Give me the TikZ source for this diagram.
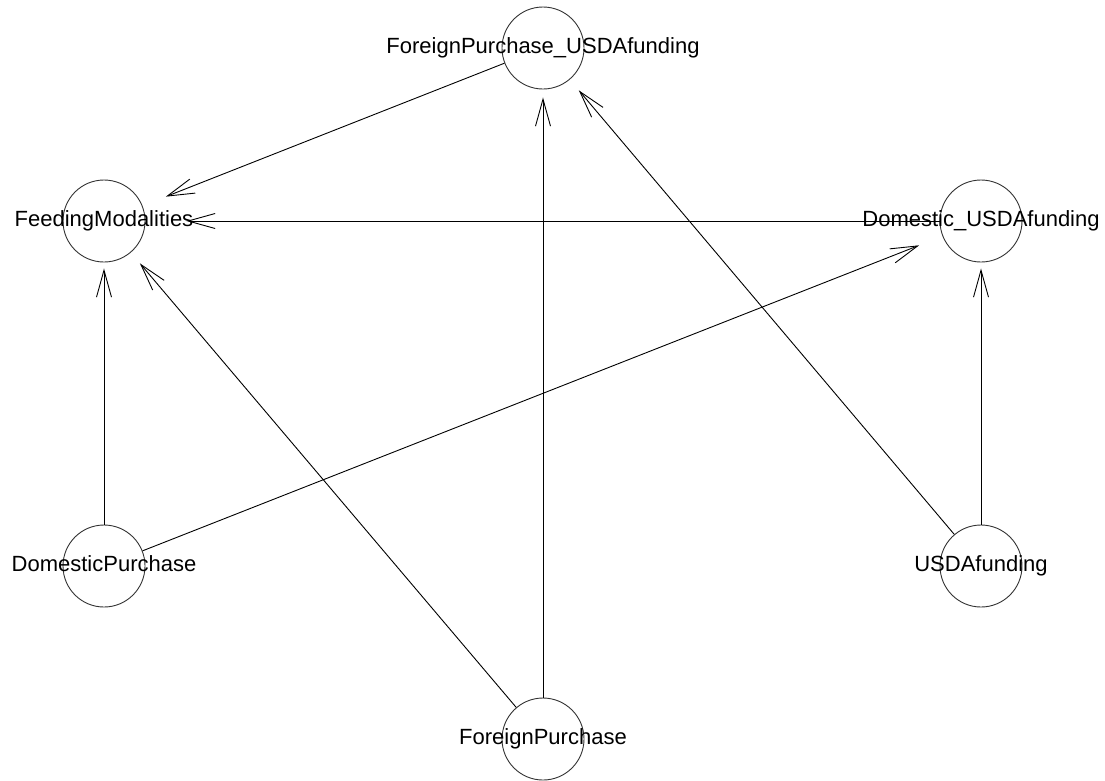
\documentclass[tikz,border=0pt]{standalone}
\usepackage{fontspec}
\setmainfont{Liberation Sans}
\usetikzlibrary{arrows.meta}
\begin{document}
\begin{tikzpicture}[x=1pt,y=-1pt,
  vert/.style={circle,draw=black!80,line width=0.9pt,minimum size=82pt,inner sep=0pt},
  lbl/.style={anchor=base,inner sep=0pt,font=\fontsize{22}{26}\selectfont,text=black},
  edge/.style={draw=black,line width=0.9pt,-{Straight Barb[length=27pt,width=15pt,line width=0.9pt]}}]
\useasboundingbox (0,0) rectangle (1105,780);
% vertices
\node[vert] (fpu) at (543,48) {};
\node[vert] (fm)  at (104,221) {};
\node[vert] (du)  at (981,221) {};
\node[vert] (dp)  at (104,566) {};
\node[vert] (usda) at (981,566) {};
\node[vert] (fp)  at (543,739) {};
% edges
\draw[edge,shorten >=25pt] (fpu) -- (fm);
\draw[edge,shorten >=41pt] (du) -- (fm);
\draw[edge,shorten >=6pt] (dp) -- (fm);
\draw[edge,shorten >=14pt] (fp) -- (fm);
\draw[edge,shorten >=25pt] (dp) -- (du);
\draw[edge,shorten >=8pt] (fp) -- (fpu);
\draw[edge,shorten >=14pt] (usda) -- (fpu);
\draw[edge,shorten >=6pt] (usda) -- (du);
% labels
\node[lbl] (lfpu) at (543,53) {ForeignPurchase\_USDAfunding};
\node[lbl] (lfm)  at (104,226) {FeedingModalities};
\node[lbl] (ldu)  at (981,226) {Domestic\_USDAfunding};
\node[lbl] (ldp)  at (104,571) {DomesticPurchase};
\node[lbl] (lusda) at (981,571) {USDAfunding};
\node[lbl] (lfp)  at (543,744) {ForeignPurchase};
\end{tikzpicture}
\end{document}
